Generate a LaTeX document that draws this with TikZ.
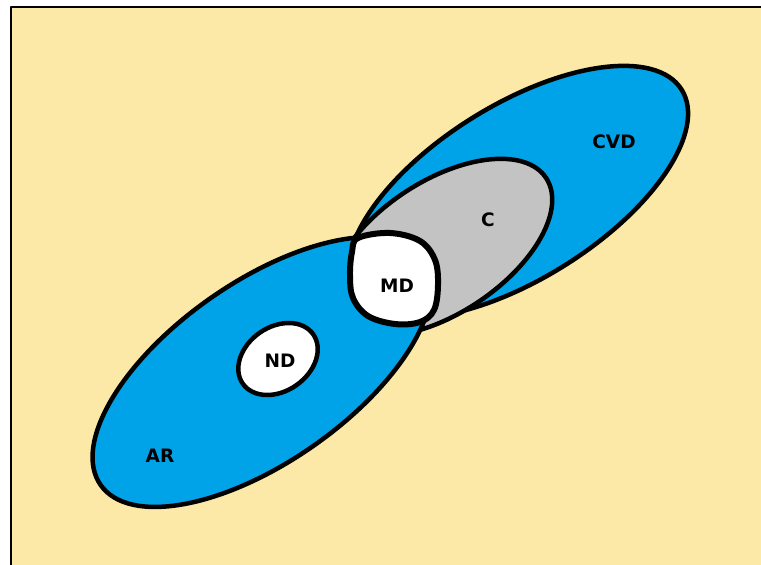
\documentclass[tikz,border=0pt]{standalone}
\usepackage{fontspec}
\setmainfont{DejaVu Sans}
\definecolor{bgyel}{RGB}{252,233,167}
\definecolor{skyb}{RGB}{0,162,232}
\definecolor{setgray}{RGB}{195,195,195}
\begin{document}
\begin{tikzpicture}[x=1pt,y=-1pt,line join=round,
  region/.style={draw=black,line width=4.5pt},
  lbl/.style={font=\fontsize{18.5}{21}\selectfont\bfseries,inner sep=0pt}]
\useasboundingbox (0,0) rectangle (761,565);
\fill[white] (0,0) rectangle (761,565);
\fill[bgyel] (11,7) rectangle (761,565);
\draw[line width=2.8pt] (11,565) -- (11,7) -- (761,7);
% CVD (its lower-left end lies under AR)
\draw[region,fill=skyb,rotate around={32:(518,192)}] (518,192) ellipse [x radius=193,y radius=87];
% C
\draw[region,fill=setgray,rotate around={33.5:(441,247.5)}] (441,247.5) ellipse [x radius=126,y radius=66];
% AR
\draw[region,fill=skyb,rotate around={35:(262,372)}] (262,372) ellipse [x radius=197,y radius=90];
% MD
\draw[region,line width=6pt,fill=white] plot[smooth cycle,tension=0.6] coordinates {
 (358,238) (390,233) (420,241) (435,260) (438,285) (434,310) (420,322)
 (395,324) (368,316) (353,298) (350,275) (352,252)};
% ND
\draw[region,fill=white,rotate around={35:(278,359)}] (278,359) ellipse [x radius=43,y radius=32];
\node[lbl] (cvd) at (614,142) {CVD};
\node[lbl] (c) at (488,220) {C};
\node[lbl] (md) at (397,286) {MD};
\node[lbl] (nd) at (280,361) {ND};
\node[lbl] (ar) at (160,456) {AR};
\end{tikzpicture}
\end{document}
